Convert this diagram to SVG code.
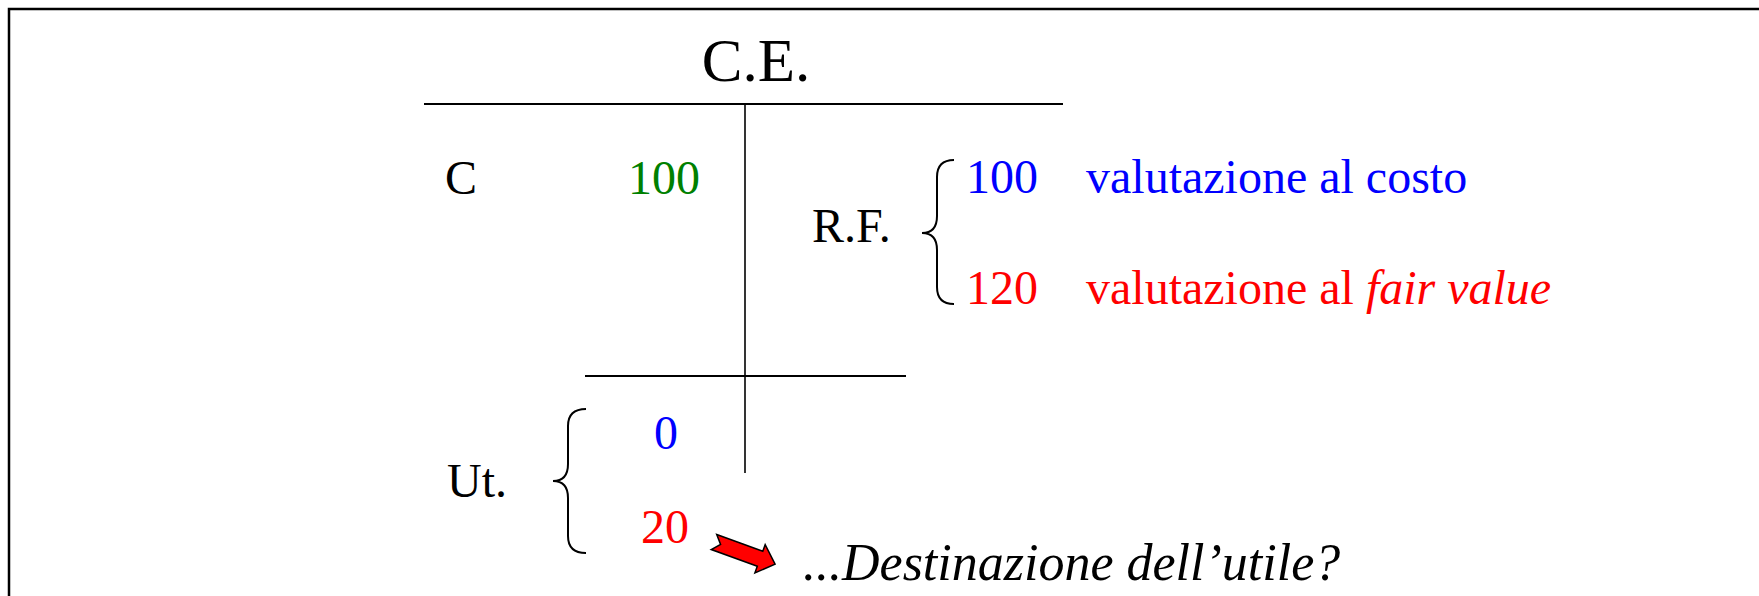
<svg xmlns="http://www.w3.org/2000/svg" width="1759" height="596" viewBox="0 0 1759 596">
<style>
text{font-family:"Liberation Serif","Times New Roman",serif;font-size:48px}
.k{fill:#000}.g{fill:#008000}.b{fill:#0000ff}.r{fill:#ff0000}
.ln{stroke:#000;fill:none}
.br{stroke:#000;stroke-width:2;fill:none}
</style>
<rect x="9" y="9" width="1800" height="700" fill="#fff" stroke="#000" stroke-width="2.5"/>
<g id="account">
<text x="756" y="81" text-anchor="middle" style="font-size:61px">C.E.</text>
<line class="ln" x1="424" y1="104" x2="1063" y2="104" stroke-width="2"/>
<line class="ln" x1="745" y1="104" x2="745" y2="473" stroke-width="1.6"/>
<line class="ln" x1="585" y1="376" x2="906" y2="376" stroke-width="2"/>
</g>
<g id="costs">
<text class="k" x="445" y="194">C</text>
<text class="g" x="628" y="194">100</text>
</g>
<g id="revenues">
<text class="k" x="812" y="242">R.F.</text>
<path class="br" d="M954,160 Q937,160 937,177 L937,216 Q937,233 922,233 Q937,233 937,250 L937,287 Q937,304 954,304"/>
<text class="b" x="966" y="193">100</text>
<text class="b" x="1086" y="193">valutazione al costo</text>
<text class="r" x="966" y="304">120</text>
<text class="r" x="1086" y="304">valutazione al <tspan font-style="italic">fair value</tspan></text>
</g>
<g id="profit">
<text class="k" x="447" y="497">Ut.</text>
<path class="br" d="M586,409 Q568,409 568,426 L568,464 Q568,481 553,481 Q568,481 568,498 L568,536 Q568,553 586,553"/>
<text class="b" x="654" y="449">0</text>
<text class="r" x="641" y="543">20</text>
</g>
<g id="connectors">
<polygon points="0,-8 49,-8 49,-15 65,0 49,15 49,8 0,8 7,0" fill="#ff0000" stroke="#000" stroke-width="1.5" transform="translate(714,542) rotate(20)"/>
</g>
<g id="question">
<text class="k" x="803" y="580" style="font-size:52px;font-style:italic">...Destinazione dell’utile?</text>
</g>
</svg>
